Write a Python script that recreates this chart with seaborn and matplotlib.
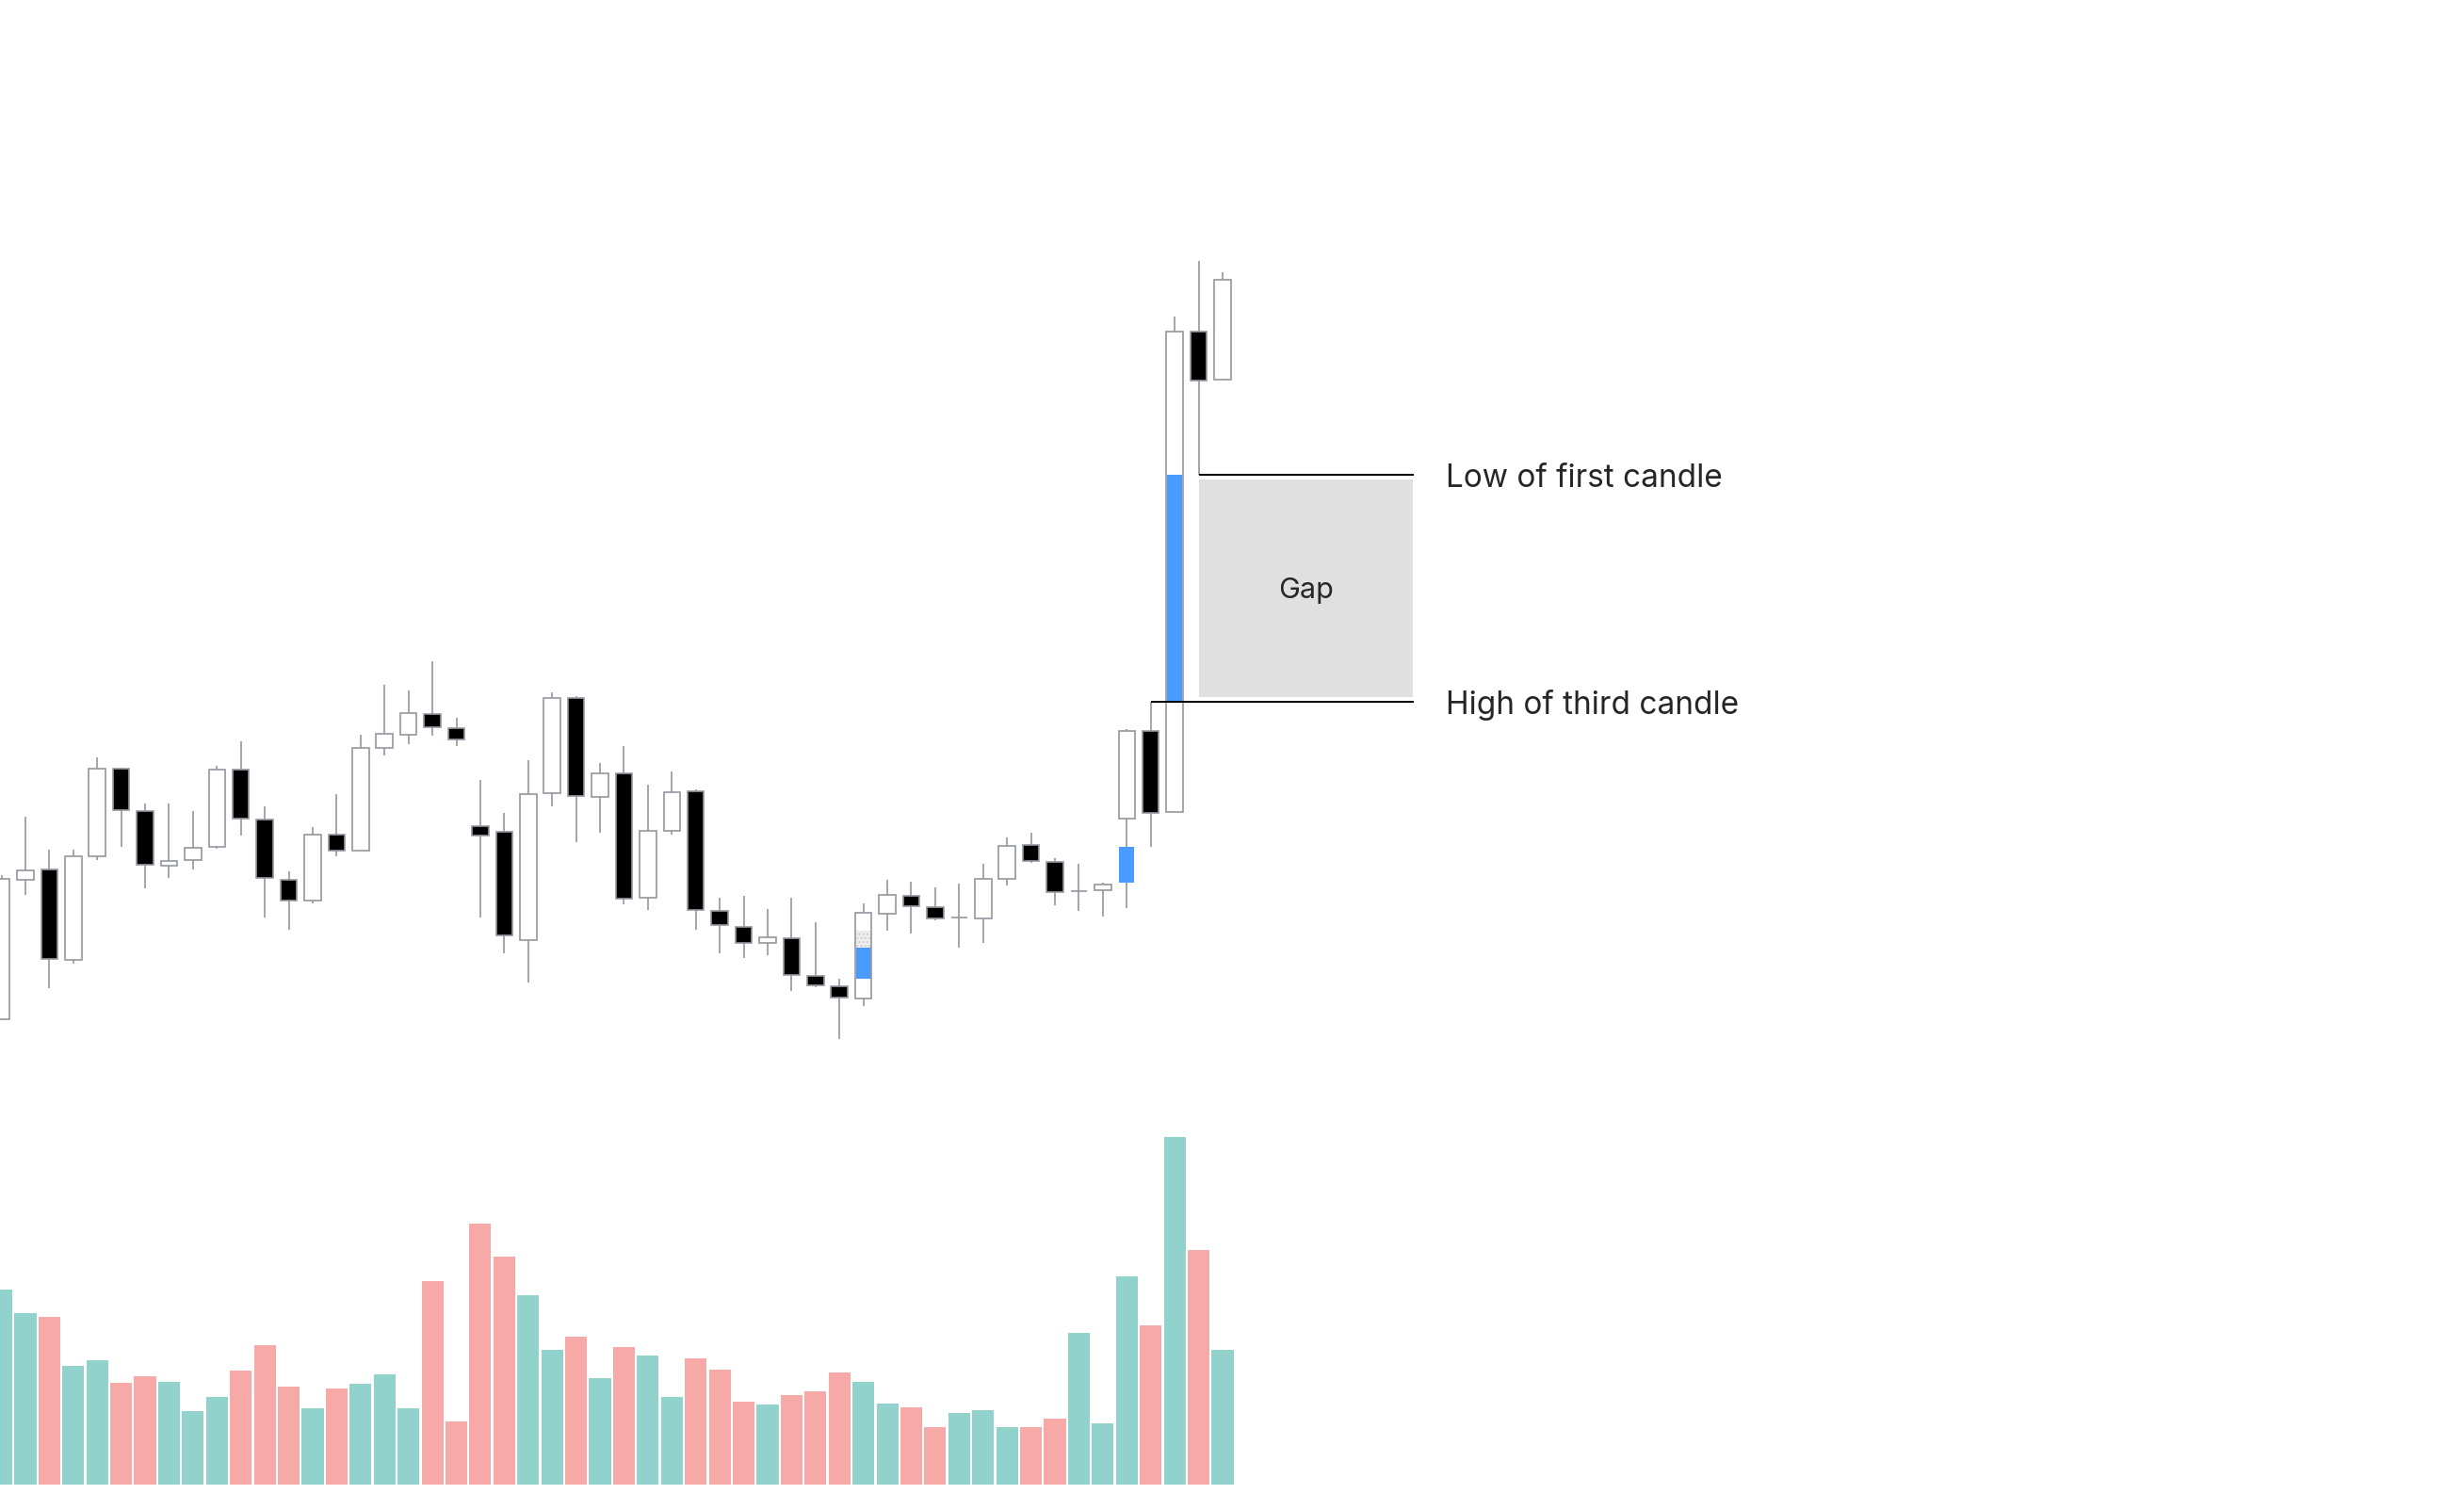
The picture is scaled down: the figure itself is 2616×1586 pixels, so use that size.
import numpy as np
import pandas as pd
import matplotlib
matplotlib.use("Agg")
import matplotlib.pyplot as plt
import seaborn as sns

# OHLC + volume (arbitrary price / volume units)
opens = [50.37, 65.17, 66.30, 56.67, 67.67, 77.00, 72.50, 66.70, 67.27, 68.70,
         76.93, 71.60, 65.20, 63.00, 70.00, 68.30, 79.17, 80.63, 82.80, 81.33,
         70.90, 70.33, 58.80, 74.37, 84.50, 74.00, 76.53, 63.27, 70.40, 74.63,
         61.93, 60.20, 58.50, 59.03, 55.00, 53.90, 52.60, 61.60, 63.53, 62.30,
         61.23, 61.13, 65.30, 68.93, 67.13, 64.00, 64.07, 71.70, 81.00, 72.40,
         123.40, 118.27]
highs = [65.70, 71.87, 68.40, 68.40, 78.17, 77.13, 73.27, 73.27, 72.50, 77.27,
         79.90, 73.00, 66.10, 70.77, 74.30, 80.60, 85.90, 85.30, 88.40, 82.40,
         75.80, 72.30, 77.90, 85.10, 84.67, 77.57, 79.37, 75.27, 76.67, 74.77,
         63.27, 63.47, 62.07, 63.27, 60.67, 54.73, 62.67, 65.20, 64.97, 64.40,
         64.80, 66.87, 69.70, 70.20, 67.53, 66.87, 64.87, 81.20, 84.10, 125.00,
         130.90, 129.67]
lows = [50.27, 63.63, 53.73, 56.33, 67.33, 68.73, 64.33, 65.43, 66.33, 68.53,
        69.93, 61.23, 59.93, 62.73, 67.73, 68.30, 78.43, 79.63, 80.53, 79.43,
        61.23, 57.43, 54.27, 73.03, 69.23, 70.23, 62.63, 62.03, 70.03, 59.93,
        57.43, 56.93, 57.23, 53.43, 53.83, 48.33, 51.83, 59.83, 59.53, 60.93,
        58.03, 58.53, 64.63, 66.97, 62.53, 61.90, 61.33, 62.20, 68.70, 72.40,
        108.23, 118.27]
closes = [65.27, 66.23, 56.80, 67.73, 77.03, 72.60, 66.80, 67.23, 68.63, 76.87,
          71.70, 65.40, 63.00, 70.00, 68.30, 79.23, 80.67, 82.93, 81.40, 80.10,
          69.90, 59.30, 74.33, 84.53, 74.13, 76.47, 63.20, 70.37, 74.53, 62.03,
          60.40, 58.50, 59.13, 55.10, 54.00, 52.73, 61.73, 63.63, 62.40, 61.13,
          61.23, 65.33, 68.83, 67.20, 63.93, 64.00, 64.67, 81.00, 72.30, 123.44,
          118.17, 128.93]
volumes = [207, 182, 178, 126, 132, 108, 115, 109, 78, 93,
           121, 148, 104, 81, 102, 107, 117, 81, 216, 67,
           277, 242, 201, 143, 157, 113, 146, 137, 93, 134,
           122, 88, 85, 95, 99, 119, 109, 86, 82, 61,
           76, 79, 61, 61, 70, 161, 65, 221, 169, 369,
           249, 143]

# fair value gaps: blue between high of candle before and low of candle after
fvg_candles = [36, 47, 49]
fvg_blue_top = {36: 58.0}  # only partly blue, rest is dotted grey
gap_end = 59  # annotation lines run to this candle slot

df = pd.DataFrame({"open": opens, "high": highs, "low": lows,
                   "close": closes, "volume": volumes})
df["idx"] = np.arange(len(df))
df["dir"] = np.where(df["close"] >= df["open"], "up", "down")

sns.set_style("white")
plt.rcParams["font.family"] = ["Inter", "DejaVu Sans"]

gray = "#9598A1"
blue = "#4A9BFF"

fig = plt.figure(figsize=(26.16, 15.86), dpi=100)
ax_vol = fig.add_axes([0, 10 / 1586, 1, 400 / 1586])
ax = fig.add_axes([0, 0, 1, 1])
ax.patch.set_alpha(0)

# volume
sns.barplot(df, x="idx", y="volume", hue="dir",
            palette={"up": "#92D2CC", "down": "#F7A9A7"},
            native_scale=True, width=0.91, dodge=False, saturation=1,
            linewidth=0, legend=False, ax=ax_vol)
ax_vol.set_xlim(-0.06, 102.85)
ax_vol.set_ylim(0, 400)
ax_vol.axis("off")

# candles
body_lo = df[["open", "close"]].min(axis=1)
body_h = (df["close"] - df["open"]).abs()
face = np.where(df["dir"] == "up", "white", "black")
ax.vlines(df["idx"], df["low"], df["high"], color=gray, lw=1.22, zorder=1)
ax.bar(df["idx"], body_h, bottom=body_lo, width=0.69, color=face, lw=0, zorder=2)

for i in fvg_candles:
    lo, hi = highs[i - 1], lows[i + 1]
    top = fvg_blue_top.get(i, hi)
    ax.bar(i, top - lo, bottom=lo, width=0.62, color=blue, lw=0, zorder=3)
    if top < hi:
        ax.bar(i, hi - top, bottom=top, width=0.62, facecolor="#EFEFEF",
               edgecolor="#CCCCCC", hatch="....", lw=0, zorder=3)

ax.bar(df["idx"], body_h, bottom=body_lo, width=0.69, fill=False,
       edgecolor=gray, lw=1.22, zorder=4)

# gap annotation
first_low = lows[50]
third_high = highs[48]
ax.fill_between([50.02, gap_end - 0.07], third_high + 0.5, first_low - 0.5,
                color="#E0E0E0", lw=0, zorder=0)
ax.hlines(first_low, 50, gap_end, color="black", lw=1.44, zorder=5)
ax.hlines(third_high, 48, gap_end, color="black", lw=1.44, zorder=5)
ax.annotate("Low of first candle", (gap_end, first_low), xytext=(24, -9.4),
            textcoords="offset points", ha="left", va="baseline", fontsize=24)
ax.annotate("High of third candle", (gap_end, third_high), xytext=(24, -9.4),
            textcoords="offset points", ha="left", va="baseline", fontsize=24)
ax.annotate("Gap", ((50 + gap_end) / 2, (first_low + third_high) / 2),
            xytext=(0, -8.0), textcoords="offset points",
            ha="center", va="baseline", fontsize=22)

ax.set_xlim(-0.06, 102.85)
ax.set_ylim(0, 158.6)
ax.axis("off")

fig.savefig("out.png", dpi=100, facecolor="white")
